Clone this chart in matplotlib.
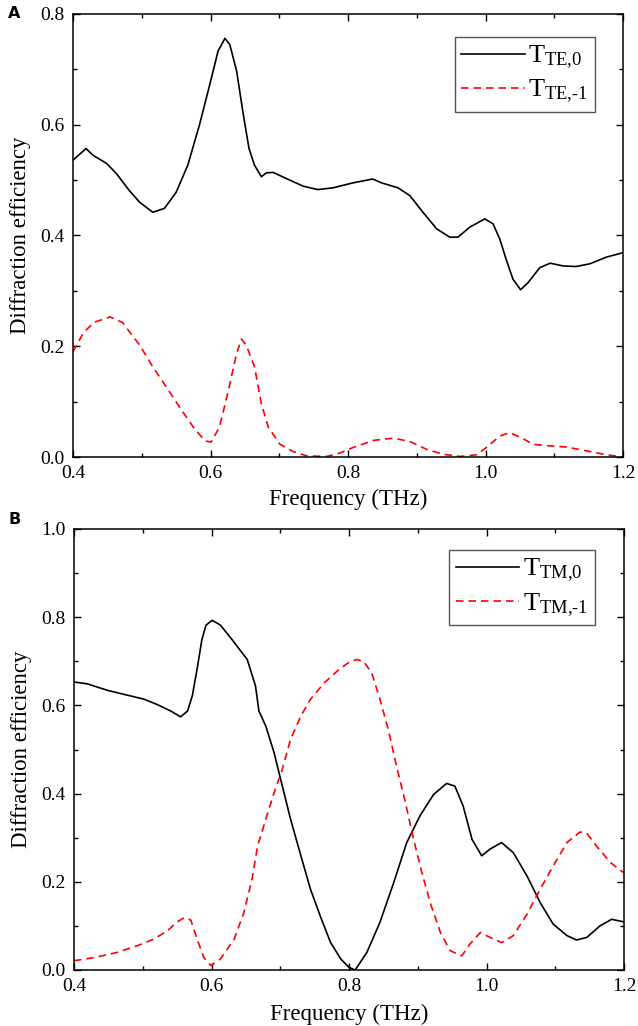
import matplotlib

matplotlib.use("Agg")
import matplotlib.pyplot as plt
from matplotlib.ticker import MultipleLocator

plt.rcParams["font.family"] = ["Liberation Serif", "DejaVu Serif"]
plt.rcParams["mathtext.fontset"] = "custom"
plt.rcParams["mathtext.rm"] = "Liberation Serif"

# panel A: TE
te0_f = [0.400, 0.419, 0.429, 0.449, 0.463, 0.482, 0.497, 0.516, 0.533, 0.550, 0.567,
         0.584, 0.599, 0.611, 0.621, 0.628, 0.638, 0.647, 0.656, 0.664, 0.674, 0.681,
         0.691, 0.710, 0.735, 0.756, 0.778, 0.807, 0.836, 0.849, 0.873, 0.890, 0.909,
         0.929, 0.948, 0.960, 0.977, 0.999, 1.011, 1.021, 1.030, 1.040, 1.051, 1.062,
         1.079, 1.094, 1.113, 1.132, 1.152, 1.176, 1.200]
te0_v = [0.536, 0.557, 0.545, 0.530, 0.512, 0.481, 0.460, 0.442, 0.449, 0.478, 0.527,
         0.600, 0.673, 0.733, 0.756, 0.745, 0.697, 0.624, 0.557, 0.527, 0.506, 0.513,
         0.514, 0.503, 0.489, 0.483, 0.486, 0.495, 0.502, 0.495, 0.486, 0.472, 0.442,
         0.412, 0.397, 0.397, 0.415, 0.430, 0.421, 0.393, 0.357, 0.321, 0.302, 0.315,
         0.342, 0.350, 0.345, 0.344, 0.349, 0.361, 0.369]

te1_f = [0.400, 0.415, 0.430, 0.454, 0.472, 0.497, 0.516, 0.536, 0.555, 0.575, 0.592,
         0.601, 0.613, 0.626, 0.638, 0.645, 0.652, 0.664, 0.674, 0.684, 0.701, 0.720,
         0.740, 0.769, 0.788, 0.807, 0.837, 0.866, 0.890, 0.914, 0.938, 0.963, 0.987,
         1.001, 1.021, 1.035, 1.052, 1.069, 1.094, 1.118, 1.147, 1.176, 1.200]
te1_v = [0.190, 0.224, 0.243, 0.253, 0.243, 0.202, 0.163, 0.126, 0.090, 0.054, 0.029,
         0.027, 0.054, 0.120, 0.187, 0.213, 0.202, 0.163, 0.096, 0.054, 0.023, 0.010,
         0.002, 0.001, 0.007, 0.017, 0.030, 0.034, 0.028, 0.014, 0.005, 0.001, 0.004,
         0.017, 0.038, 0.044, 0.035, 0.023, 0.020, 0.018, 0.011, 0.004, 0.000]

# panel B: TM
tm0_f = [0.400, 0.419, 0.449, 0.478, 0.502, 0.521, 0.541, 0.555, 0.565, 0.572, 0.579,
         0.586, 0.592, 0.601, 0.613, 0.630, 0.652, 0.664, 0.669, 0.679, 0.691, 0.703,
         0.715, 0.730, 0.744, 0.759, 0.773, 0.788, 0.800, 0.809, 0.826, 0.845, 0.865,
         0.884, 0.903, 0.923, 0.942, 0.954, 0.966, 0.979, 0.993, 1.005, 1.022, 1.039,
         1.059, 1.078, 1.097, 1.117, 1.131, 1.146, 1.165, 1.182, 1.200]
tm0_v = [0.653, 0.649, 0.634, 0.623, 0.614, 0.602, 0.587, 0.574, 0.587, 0.621, 0.682,
         0.749, 0.782, 0.793, 0.782, 0.749, 0.704, 0.644, 0.587, 0.553, 0.493, 0.417,
         0.342, 0.259, 0.183, 0.119, 0.063, 0.025, 0.006, 0.000, 0.040, 0.108, 0.198,
         0.289, 0.349, 0.398, 0.423, 0.417, 0.372, 0.296, 0.259, 0.274, 0.289, 0.266,
         0.213, 0.153, 0.104, 0.078, 0.068, 0.074, 0.100, 0.115, 0.109]

tm1_f = [0.400, 0.429, 0.463, 0.492, 0.516, 0.536, 0.550, 0.561, 0.570, 0.579, 0.589,
         0.599, 0.613, 0.633, 0.647, 0.659, 0.667, 0.679, 0.691, 0.703, 0.715, 0.730,
         0.744, 0.764, 0.783, 0.800, 0.811, 0.821, 0.833, 0.845, 0.857, 0.869, 0.882,
         0.894, 0.906, 0.918, 0.933, 0.947, 0.964, 0.976, 0.991, 1.005, 1.022, 1.039,
         1.059, 1.078, 1.097, 1.117, 1.136, 1.146, 1.160, 1.180, 1.200]
tm1_v = [0.021, 0.028, 0.040, 0.055, 0.070, 0.089, 0.109, 0.119, 0.113, 0.070, 0.028,
         0.010, 0.025, 0.070, 0.130, 0.206, 0.281, 0.342, 0.402, 0.455, 0.523, 0.576,
         0.614, 0.651, 0.678, 0.698, 0.704, 0.700, 0.674, 0.614, 0.546, 0.463, 0.380,
         0.296, 0.221, 0.153, 0.085, 0.044, 0.032, 0.059, 0.085, 0.074, 0.062, 0.078,
         0.127, 0.183, 0.236, 0.289, 0.313, 0.310, 0.281, 0.244, 0.220]

W, H = 638, 1026
fig = plt.figure(figsize=(W / 100, H / 100), dpi=100)


def panel(rect, f0, v0, f1, v1, lab0, lab1, ymax, leg_anchor, xlab_y):
    ax = fig.add_axes(rect)
    ax.plot(f0, v0, color="black", lw=1.2, label=lab0)
    ax.plot(f1, v1, color="red", lw=1.2, ls=(0, (4.5, 3)), label=lab1)
    ax.set_xlim(0.4, 1.2)
    ax.set_ylim(0, ymax)
    ax.xaxis.set_major_locator(MultipleLocator(0.2))
    ax.xaxis.set_minor_locator(MultipleLocator(0.1))
    ax.yaxis.set_major_locator(MultipleLocator(0.2))
    ax.yaxis.set_minor_locator(MultipleLocator(0.1))
    ax.xaxis.set_major_formatter(lambda x, p: f"{x:.1f}")
    ax.yaxis.set_major_formatter(lambda y, p: f"{y:.1f}")
    ax.tick_params(which="both", direction="in", top=True, right=True,
                   labelsize=14, pad=6)
    ax.tick_params(which="major", length=5, width=1)
    ax.tick_params(which="minor", length=3, width=1)
    for s in ax.spines.values():
        s.set_linewidth(1.1)
    ax.set_xlabel("Frequency (THz)", fontsize=16.5)
    ax.set_ylabel("Diffraction efficiency", fontsize=16.5)
    ax.xaxis.set_label_coords(0.5, xlab_y)
    ax.yaxis.set_label_coords(-0.076, 0.5)
    leg = ax.legend(loc="upper right", bbox_to_anchor=leg_anchor, fontsize=19,
                    fancybox=False, framealpha=1, edgecolor="#555555",
                    handlelength=2.4, borderpad=0.25, labelspacing=0.25,
                    handletextpad=0.15, borderaxespad=0)
    leg.get_frame().set_linewidth(1.0)
    return ax


panel([73 / W, 1 - 457 / H, 550 / W, 443 / H], te0_f, te0_v, te1_f, te1_v,
      r"$\mathrm{T_{TE{,}0}}$", r"$\mathrm{T_{TE{,}\text{-}1}}$", 0.8, (0.949, 0.948), -0.072)
panel([74 / W, 1 - 970 / H, 550 / W, 441 / H], tm0_f, tm0_v, tm1_f, tm1_v,
      r"$\mathrm{T_{TM{,}0}}$", r"$\mathrm{T_{TM{,}\text{-}1}}$", 1.0, (0.947, 0.952), -0.077)

fig.text(8 / W, 1 - 14 / H, "A", fontsize=11.5, fontweight="bold",
         family="DejaVu Sans", va="center")
fig.text(8 / W, 1 - 520 / H, "B", fontsize=11.5, fontweight="bold",
         family="DejaVu Sans", va="center")

fig.savefig("out.png", dpi=100)
